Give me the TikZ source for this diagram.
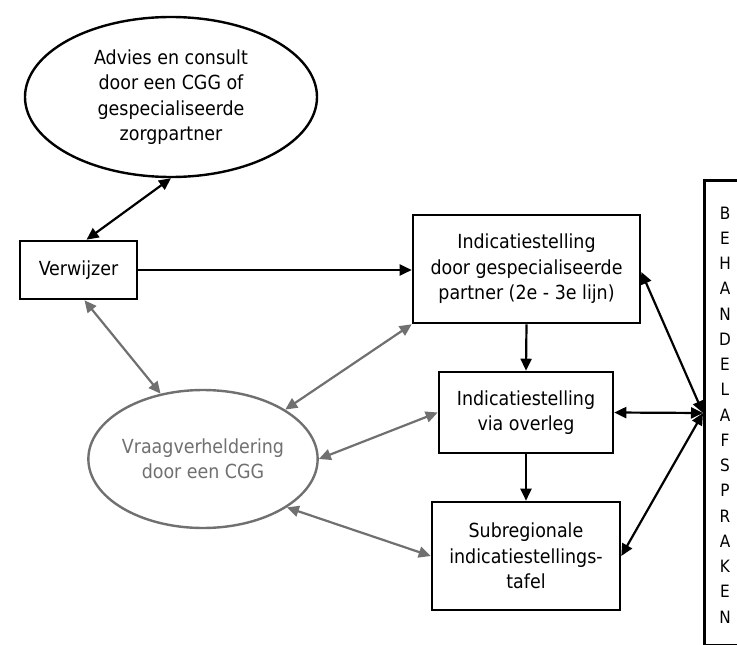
\documentclass[tikz,border=0pt]{standalone}
\usepackage{fontspec}
\setmainfont{DejaVu Sans Condensed}
\usetikzlibrary{arrows.meta,shapes.geometric}
\definecolor{mygray}{RGB}{112,112,112}
\newcommand\boxfont{\fontsize{19.4}{25.5}\selectfont}
\newcommand\letterfont{\fontsize{17}{25.25}\selectfont}
\tikzset{
  boxnode/.style={draw,line width=2.6pt,inner sep=0pt,align=center,font=\boxfont},
  ellnode/.style={draw,ellipse,line width=2.4pt,inner sep=0pt,align=center,font=\boxfont},
  blackarrow/.style={line width=2.2pt,-{Triangle[length=12pt,width=11pt]}},
  blackboth/.style={line width=2.2pt,{Triangle[length=12pt,width=11pt]}-{Triangle[length=12pt,width=11pt]}},
  grayboth/.style={mygray,line width=2.2pt,{Triangle[length=12pt,width=11pt]}-{Triangle[length=12pt,width=11pt]}}
}
\begin{document}
\begin{tikzpicture}[x=1pt,y=-1pt]
\useasboundingbox[fill=white] (0,0) rectangle (737,645);

\node[ellnode,minimum width=292pt,minimum height=160pt] (adv) at (171,97)
  {Advies en consult\\door een CGG of\\gespecialiseerde\\zorgpartner};
\node[boxnode,minimum width=117pt,minimum height=58pt] (verw) at (78.5,270) {Verwijzer};
\node[ellnode,draw=mygray,text=mygray,minimum width=228pt,minimum height=138pt] (vraag) at (203,459)
  {Vraagverheldering\\door een CGG};
\node[boxnode,minimum width=227pt,minimum height=108pt] (ind1) at (526.5,269)
  {Indicatiestelling\\door gespecialiseerde\\partner (2e - 3e lijn)};
\node[boxnode,minimum width=174pt,minimum height=81pt] (ind2) at (526,412.5)
  {Indicatiestelling\\via overleg};
\node[boxnode,minimum width=188pt,minimum height=108pt] (ind3) at (526,556)
  {Subregionale\\indicatiestellings-\\tafel};
\node[draw,line width=2.6pt,inner sep=0pt,minimum width=60pt,minimum height=465pt,anchor=north west] (beh) at (703,179) {};
\node[inner sep=0pt,align=center,font=\letterfont] (behtxt) at (725,415)
  {B\\E\\H\\A\\N\\D\\E\\L\\A\\F\\S\\P\\R\\A\\K\\E\\N};
\coordinate (hub) at (703,413);

\draw[blackboth] (adv.south) -- ([xshift=8pt]verw.north);
\draw[blackarrow] (verw.east) -- (verw.east -| ind1.west);
\draw[grayboth] ([xshift=6pt]verw.south) -- (vraag.123);
\draw[grayboth] (vraag.31) -- (ind1.south west);
\draw[grayboth] (vraag.east) -- (ind2.west);
\draw[grayboth] (vraag.-30) -- (ind3.west);
\draw[blackarrow] (ind1.south) -- (ind2.north);
\draw[blackarrow] (ind2.south) -- (ind3.north);
\draw[blackboth] ([yshift=-3pt]ind1.east) -- (hub);
\draw[blackboth] (ind2.east) -- (hub);
\draw[blackboth] (ind3.east) -- (hub);
\end{tikzpicture}
\end{document}
